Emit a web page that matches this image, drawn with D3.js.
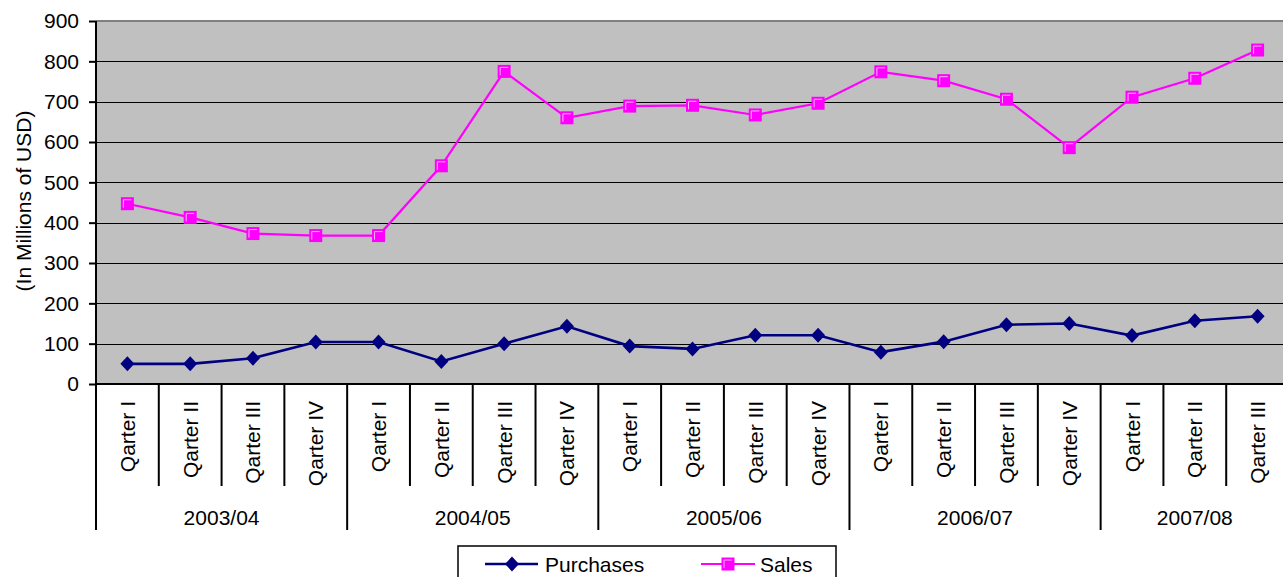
<!DOCTYPE html>
<html>
<head>
<meta charset="utf-8">
<script src="https://cdn.jsdelivr.net/npm/d3@7"></script>
<style>
  body { margin: 0; background: #fff; }
  svg { display: block; font-family: "Liberation Sans", Arial, sans-serif; }
</style>
</head>
<body>
<div id="chart"></div>
<script>
// data
const years = ["2003/04", "2004/05", "2005/06", "2006/07", "2007/08"];
const quartersPerYear = [4, 4, 4, 4, 3];
const quarterNames = ["Qarter I", "Qarter II", "Qarter III", "Qarter IV"];
const purchases = [50, 50, 64, 104, 104, 56, 100, 143, 94, 87, 121, 121, 79, 105, 147, 150, 120, 157, 168];
const sales = [447, 413, 373, 368, 368, 541, 775, 660, 689, 691, 667, 696, 774, 752, 706, 586, 711, 758, 828];
const yTicks = [0, 100, 200, 300, 400, 500, 600, 700, 800, 900];

// build the category list (year + quarter)
const categories = [];
years.forEach((y, i) => {
    for (let q = 0; q < quartersPerYear[i]; q++) {
        categories.push({ year: y, quarter: quarterNames[q], key: y + "-" + q });
    }
});

const W = 1283, H = 577;
const plot = { left: 96, right: 1289, top: 21, bottom: 384 };

const svg = d3.select("#chart").append("svg")
    .attr("width", W)
    .attr("height", H);

const xScale = d3.scaleBand()
    .domain(categories.map(d => d.key))
    .range([plot.left, plot.right]);

const yScale = d3.scaleLinear()
    .domain([0, 900])
    .range([plot.bottom, plot.top]);

// plot background
svg.append("rect")
    .attr("x", plot.left)
    .attr("y", plot.top)
    .attr("width", plot.right - plot.left)
    .attr("height", plot.bottom - plot.top)
    .attr("fill", "#c0c0c0");

// gridlines
svg.append("g")
    .selectAll("line")
    .data(yTicks.filter(t => t > 0 && t < 900))
    .join("line")
    .attr("x1", plot.left)
    .attr("x2", plot.right)
    .attr("y1", d => Math.round(yScale(d)) + 0.5)
    .attr("y2", d => Math.round(yScale(d)) + 0.5)
    .attr("stroke", "#000")
    .attr("stroke-width", 1.2);

// grey top border
svg.append("line")
    .attr("x1", plot.left).attr("x2", plot.right)
    .attr("y1", yScale(900)).attr("y2", yScale(900))
    .attr("stroke", "#808080")
    .attr("stroke-width", 2);

// y axis
const yAxis = d3.axisLeft(yScale)
    .tickValues(yTicks)
    .tickSize(7)
    .tickPadding(10);

const yG = svg.append("g")
    .attr("transform", `translate(${plot.left},0)`)
    .call(yAxis);
yG.select(".domain").remove();
yG.selectAll(".tick line").attr("stroke", "#000").attr("stroke-width", 2);
yG.selectAll(".tick text")
    .attr("fill", "#000")
    .style("font-size", "21px")
    .style("font-family", "'Liberation Sans', Arial, sans-serif");

// left axis line running down through the category labels
svg.append("line")
    .attr("x1", plot.left).attr("x2", plot.left)
    .attr("y1", plot.top).attr("y2", 530)
    .attr("stroke", "#000").attr("stroke-width", 2);

// x axis line
svg.append("line")
    .attr("x1", plot.left).attr("x2", plot.right)
    .attr("y1", plot.bottom).attr("y2", plot.bottom)
    .attr("stroke", "#000").attr("stroke-width", 2);

// quarter and year separators
const bw = xScale.bandwidth();
categories.forEach((d, i) => {
    if (i === 0) return;
    const x = xScale(d.key);
    const isYearStart = d.quarter === quarterNames[0];
    svg.append("line")
        .attr("x1", x).attr("x2", x)
        .attr("y1", plot.bottom)
        .attr("y2", isYearStart ? 530 : 486)
        .attr("stroke", "#000")
        .attr("stroke-width", 2);
});

// quarter labels (rotated)
svg.append("g")
    .selectAll("text")
    .data(categories)
    .join("text")
    .attr("transform", d => `translate(${xScale(d.key) + bw / 2 + 7.5},401) rotate(-90)`)
    .attr("text-anchor", "end")
    .style("font-size", "21px")
    .attr("fill", "#000")
    .text(d => d.quarter);

// year labels
let start = 0;
years.forEach((y, i) => {
    const first = categories[start];
    const last = categories[start + quartersPerYear[i] - 1];
    const cx = (xScale(first.key) + xScale(last.key) + bw) / 2;
    svg.append("text")
        .attr("x", cx)
        .attr("y", 525)
        .attr("text-anchor", "middle")
        .style("font-size", "21px")
        .attr("fill", "#000")
        .text(y);
    start += quartersPerYear[i];
});

// y axis title
svg.append("text")
    .attr("transform", `translate(31,201) rotate(-90)`)
    .attr("text-anchor", "middle")
    .style("font-size", "21px")
    .attr("fill", "#000")
    .text("(In Millions of USD)");

// lines
const line = d3.line()
    .x((d, i) => xScale(categories[i].key) + bw / 2)
    .y(d => yScale(d));

const diamond = "M0,-7.5L7,0L0,7.5L-7,0Z";

function drawSquare(g, x, y) {
    g.append("rect")
        .attr("x", x - 6.5).attr("y", y - 6.5)
        .attr("width", 13).attr("height", 13)
        .attr("fill", "#ff00ff");
    g.append("path")
        .attr("d", `M${x - 4},${y + 4}L${x - 4},${y - 4}L${x + 4},${y - 4}`)
        .attr("fill", "none")
        .attr("stroke", "#ffb8ff")
        .attr("stroke-width", 1);
}

svg.append("path")
    .datum(sales)
    .attr("d", line)
    .attr("fill", "none")
    .attr("stroke", "#ff00ff")
    .attr("stroke-width", 2.2);

svg.append("path")
    .datum(purchases)
    .attr("d", line)
    .attr("fill", "none")
    .attr("stroke", "#000080")
    .attr("stroke-width", 2.6);

const markers = svg.append("g");
purchases.forEach((v, i) => {
    markers.append("path")
        .attr("d", diamond)
        .attr("transform", `translate(${xScale(categories[i].key) + bw / 2},${yScale(v)})`)
        .attr("fill", "#000080");
});
sales.forEach((v, i) => {
    drawSquare(markers, xScale(categories[i].key) + bw / 2, yScale(v));
});

// legend
const legend = svg.append("g");
legend.append("rect")
    .attr("x", 458).attr("y", 546)
    .attr("width", 378).attr("height", 50)
    .attr("fill", "#fff")
    .attr("stroke", "#000")
    .attr("stroke-width", 1.5);

legend.append("line")
    .attr("x1", 485).attr("x2", 538)
    .attr("y1", 564).attr("y2", 564)
    .attr("stroke", "#000080").attr("stroke-width", 2.6);
legend.append("path")
    .attr("d", diamond)
    .attr("transform", "translate(512,564)")
    .attr("fill", "#000080");
legend.append("text")
    .attr("x", 545).attr("y", 572)
    .style("font-size", "21px")
    .attr("fill", "#000")
    .text("Purchases");

legend.append("line")
    .attr("x1", 701).attr("x2", 755)
    .attr("y1", 564).attr("y2", 564)
    .attr("stroke", "#ff00ff").attr("stroke-width", 2.2);
drawSquare(legend, 728, 564);
legend.append("text")
    .attr("x", 760).attr("y", 572)
    .style("font-size", "21px")
    .attr("fill", "#000")
    .text("Sales");
</script>
</body>
</html>
